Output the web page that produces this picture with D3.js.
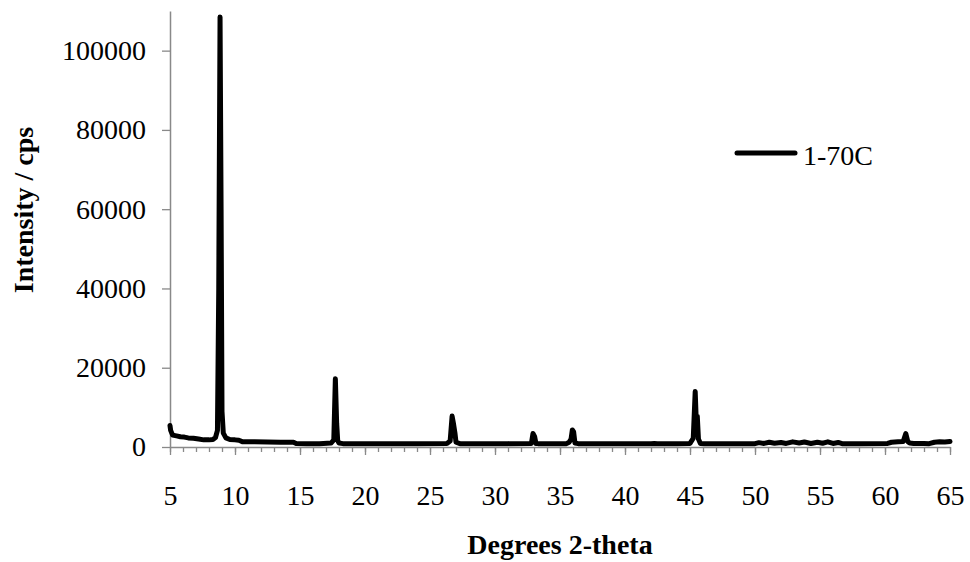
<!DOCTYPE html>
<html>
<head>
<meta charset="utf-8">
<script src="https://cdn.jsdelivr.net/npm/d3@7"></script>
<style>
  body { margin: 0; background: #fff; }
  text { font-family: "Liberation Serif", "Times New Roman", serif; fill: #000; }
</style>
</head>
<body>
<div id="chart"></div>
<script>
// XRD pattern, sample 1-70C
var seriesName = "1-70C";
var twoTheta = [
  5.0, 5.05, 5.2, 5.5, 5.8, 6.1, 6.4, 6.8, 7.2, 7.6, 8.0, 8.3, 8.5, 8.65, 8.75, 8.85, 8.93, 9.0, 9.1, 9.3, 9.6,
  10.0, 10.3, 10.6, 11.5, 12.5, 13.5, 14.5, 14.7, 15.5, 16.5, 17.4, 17.6, 17.72, 17.82, 17.9, 18.0, 18.3,
  20.0, 22.0, 24.0, 26.3, 26.55, 26.7, 26.8, 26.92, 27.0, 27.3,
  29.0, 31.0, 32.8, 32.92, 33.05, 33.15, 33.3,
  35.5, 35.7, 35.85, 35.95, 36.05, 36.15, 36.4,
  38.0, 40.0, 42.0, 42.25, 42.5,
  44.0, 45.0, 45.25, 45.4, 45.48, 45.56, 45.65, 45.8, 46.1,
  48.0, 50.0, 50.3, 50.7, 51.1, 51.5, 52.0, 52.4, 52.9, 53.4, 53.8, 54.3, 54.8, 55.2, 55.6, 56.0, 56.4, 56.7,
  58.0, 60.2, 60.5, 61.0, 61.4, 61.6, 61.75, 61.9, 62.2,
  63.0, 63.4, 63.8, 64.2, 64.6, 65.0
];
var intensity = [
  5400, 4200, 3000, 2800, 2600, 2500, 2300, 2200, 2000, 1800, 1800, 1900, 2400, 4200, 40000, 108500, 60000, 9000, 3500, 2300, 1900,
  1800, 1700, 1300, 1300, 1250, 1200, 1200, 900, 850, 850, 1000, 1800, 17200, 6000, 1600, 1000, 850,
  850, 850, 850, 900, 1500, 7800, 6000, 3500, 1200, 850,
  850, 850, 900, 3400, 2600, 900, 850,
  850, 1200, 2000, 4300, 3800, 1000, 850,
  850, 850, 850, 900, 850,
  850, 900, 2200, 14000, 6800, 7800, 2000, 900, 850,
  850, 850, 1100, 900, 1200, 950, 1150, 900, 1300, 1000, 1250, 900, 1200, 950, 1300, 900, 1150, 850,
  850, 900, 1200, 1300, 1400, 3400, 1400, 1000, 900,
  900, 850, 1200, 1300, 1250, 1400
];
var xTicks = [5, 10, 15, 20, 25, 30, 35, 40, 45, 50, 55, 60, 65];
var xMinorTicks = d3.range(5, 66, 1);
var yTicks = [0, 20000, 40000, 60000, 80000, 100000];

var W = 970, H = 562;
var axisColor = "#898989";

var x = d3.scaleLinear().domain([5, 65]).range([170, 950]);
var y = d3.scaleLinear().domain([0, 110000]).range([447, 11]);

var svg = d3.select("#chart").append("svg")
    .attr("width", W)
    .attr("height", H);

// minor x ticks
var xMinor = d3.axisBottom(x).tickValues(xMinorTicks).tickSize(5).tickFormat("");
svg.append("g")
    .attr("transform", "translate(0," + y(0) + ")")
    .call(xMinor)
    .call(function (g) {
        g.select(".domain").remove();
        g.selectAll(".tick line").attr("stroke", axisColor).attr("stroke-width", 1.3);
    });

// major x ticks + labels
var xAxis = d3.axisBottom(x).tickValues(xTicks).tickSize(8).tickSizeOuter(0).tickPadding(30)
    .tickFormat(d3.format("d"));
svg.append("g")
    .attr("transform", "translate(0," + y(0) + ")")
    .call(xAxis)
    .call(function (g) {
        g.select(".domain").attr("stroke", axisColor).attr("stroke-width", 1.5);
        g.selectAll(".tick line").attr("stroke", axisColor).attr("stroke-width", 1.3);
        g.selectAll(".tick text")
            .style("font-size", "28px")
            .style("font-family", "'Liberation Serif', serif")
            .attr("fill", "#000");
    });

// y axis
var yAxis = d3.axisLeft(y).tickValues(yTicks).tickSize(8).tickSizeOuter(0).tickPadding(16)
    .tickFormat(d3.format("d"));
svg.append("g")
    .attr("transform", "translate(" + x(5) + ",0)")
    .call(yAxis)
    .call(function (g) {
        g.select(".domain").attr("stroke", axisColor).attr("stroke-width", 1.5);
        g.selectAll(".tick line").attr("stroke", axisColor).attr("stroke-width", 1.3);
        g.selectAll(".tick text")
            .style("font-size", "28px")
            .style("font-family", "'Liberation Serif', serif")
            .attr("fill", "#000");
    });

// the pattern
var line = d3.line()
    .x(function (d, i) { return x(twoTheta[i]); })
    .y(function (d) { return y(d); });

svg.append("path")
    .datum(intensity)
    .attr("fill", "none")
    .attr("stroke", "#000")
    .attr("stroke-width", 5)
    .attr("stroke-linejoin", "round")
    .attr("stroke-linecap", "round")
    .attr("d", line);

// legend
var legend = svg.append("g").attr("transform", "translate(737,153)");
legend.append("line")
    .attr("x1", 0).attr("x2", 58)
    .attr("y1", 0).attr("y2", 0)
    .attr("stroke", "#000")
    .attr("stroke-width", 5)
    .attr("stroke-linecap", "round");
legend.append("text")
    .attr("x", 66)
    .attr("y", 12)
    .style("font-size", "28px")
    .text(seriesName);

// axis titles
svg.append("text")
    .attr("x", 560)
    .attr("y", 554)
    .attr("text-anchor", "middle")
    .style("font-size", "28px")
    .style("font-weight", "bold")
    .text("Degrees 2-theta");

svg.append("text")
    .attr("transform", "translate(33,210) rotate(-90)")
    .attr("text-anchor", "middle")
    .style("font-size", "28px")
    .style("font-weight", "bold")
    .text("Intensity / cps");
</script>
</body>
</html>
